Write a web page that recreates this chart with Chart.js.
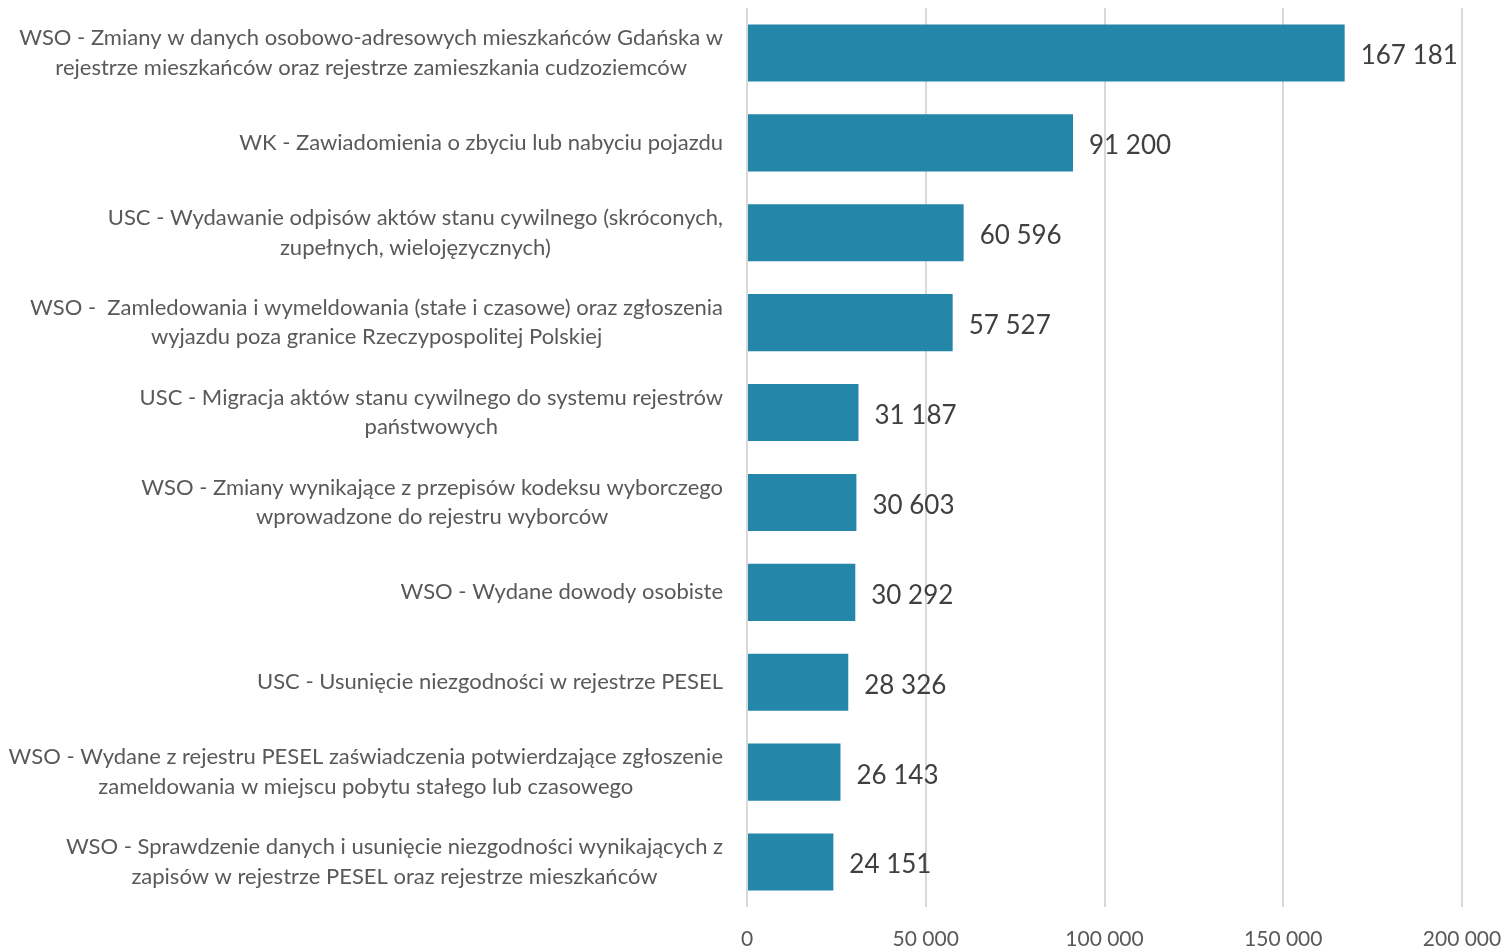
<!DOCTYPE html>
<html><head><meta charset="utf-8">
<script src="https://cdn.jsdelivr.net/npm/chart.js@4"></script>
<style>html,body{margin:0;padding:0;background:#fff;}#c{display:block;}</style>
</head><body>
<canvas id="c" width="1501" height="947"></canvas>
<script>
const categories = [
  ["WSO - Zmiany w danych osobowo-adresowych mieszkańców Gdańska w", "rejestrze mieszkańców oraz rejestrze zamieszkania cudzoziemców"],
  ["WK - Zawiadomienia o zbyciu lub nabyciu pojazdu"],
  ["USC - Wydawanie odpisów aktów stanu cywilnego (skróconych,", "zupełnych, wielojęzycznych)"],
  ["WSO -  Zamledowania i wymeldowania (stałe i czasowe) oraz zgłoszenia", "wyjazdu poza granice Rzeczypospolitej Polskiej"],
  ["USC - Migracja aktów stanu cywilnego do systemu rejestrów ", "państwowych"],
  ["WSO - Zmiany wynikające z przepisów kodeksu wyborczego", "wprowadzone do rejestru wyborców"],
  ["WSO - Wydane dowody osobiste"],
  ["USC - Usunięcie niezgodności w rejestrze PESEL"],
  ["WSO - Wydane z rejestru PESEL zaświadczenia potwierdzające zgłoszenie", "zameldowania w miejscu pobytu stałego lub czasowego"],
  ["WSO - Sprawdzenie danych i usunięcie niezgodności wynikających z", "zapisów w rejestrze PESEL oraz rejestrze mieszkańców"]
];
const values = [167181, 91200, 60596, 57527, 31187, 30603, 30292, 28326, 26143, 24151];
const axisMin = 0, axisMax = 200000, axisStep = 50000;

const FONT = "Lato, 'Open Sans', sans-serif";
const fmt = v => String(v).replace(/\B(?=(\d{3})+(?!\d))/g, ' ');

const labelPlugin = {
  id: 'labels',
  afterDatasetsDraw(chart) {
    const ctx = chart.ctx;
    const ys = chart.scales.y, xs = chart.scales.x;
    ctx.save();
    ctx.font = "22px " + FONT;
    ctx.fillStyle = '#595959';
    ctx.textBaseline = 'middle';
    ctx.textAlign = 'center';
    const lh = 29.5, right = 723;
    categories.forEach((lines, i) => {
      const y = ys.getPixelForValue(i);
      const maxW = Math.max(...lines.map(l => ctx.measureText(l.trimEnd()).width));
      const cx = right - maxW / 2;
      const y0 = y - (lines.length - 1) * lh / 2;
      lines.forEach((l, k) => ctx.fillText(l.trimEnd(), cx, y0 + k * lh));
    });
    ctx.font = "26px " + FONT;
    ctx.fillStyle = '#404040';
    ctx.textAlign = 'left';
    values.forEach((v, i) => {
      ctx.fillText(fmt(v), xs.getPixelForValue(v) + 16, ys.getPixelForValue(i) + 3);
    });
    ctx.restore();
  }
};

new Chart(document.getElementById('c'), {
  type: 'bar',
  data: {
    labels: categories.map(c => c.join(' ')),
    datasets: [{ data: values, backgroundColor: '#2486A9', barPercentage: 0.635, categoryPercentage: 1 }]
  },
  options: {
    indexAxis: 'y',
    responsive: false,
    animation: false,
    devicePixelRatio: 1,
    layout: { padding: { top: 8, right: 39, bottom: 0, left: 0 } },
    plugins: { legend: { display: false }, tooltip: { enabled: false } },
    scales: {
      x: {
        min: axisMin, max: axisMax,
        grid: { color: '#d9d9d9', lineWidth: 2, drawTicks: false },
        border: { display: false },
        ticks: { stepSize: axisStep, padding: 20, color: '#595959', font: { family: FONT, size: 21 }, callback: v => fmt(v), maxRotation: 0 },
        afterFit: s => { s.height = 40; s.paddingRight = 0; s.paddingLeft = 0; }
      },
      y: {
        grid: { display: false },
        border: { display: false },
        ticks: { display: false },
        afterFit: s => { s.width = 747; }
      }
    }
  },
  plugins: [labelPlugin]
});
</script>
</body></html>
